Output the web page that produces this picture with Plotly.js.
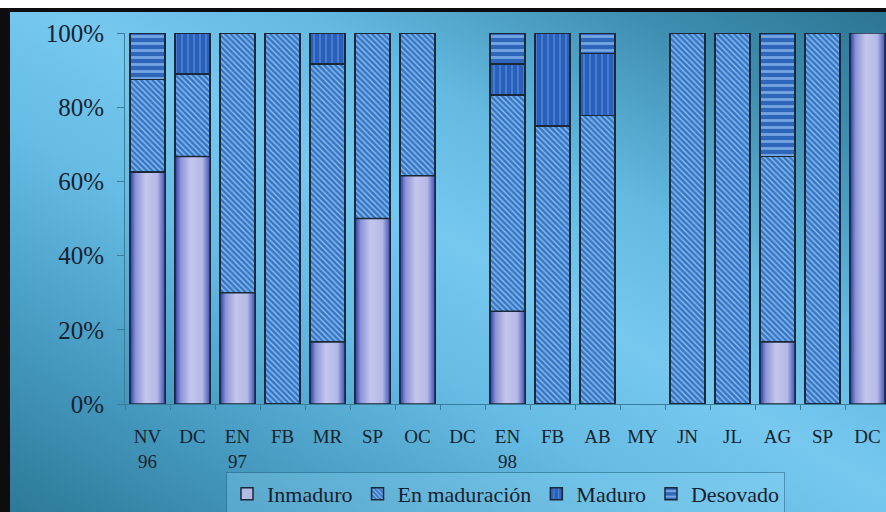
<!DOCTYPE html>
<html>
<head>
<meta charset="utf-8">
<script src="https://cdn.plot.ly/plotly-3.0.1.min.js"></script>
<style>
  html, body { margin: 0; padding: 0; background: #ffffff; }
  #wrap { position: relative; width: 886px; height: 512px; overflow: hidden; }
  #bg {
    position: absolute; left: 0; top: 0; width: 886px; height: 512px;
    background: linear-gradient(to top right, #2c7896 0%, #4599bf 18%, #66bce4 38%, #76c8ef 52%, #64bae2 66%, #3f8fb2 84%, #2a7390 100%);
  }
  #chart { position: absolute; left: 0; top: 0; width: 886px; height: 512px; }
  .frame-top-white { position: absolute; left: 0; top: 0; width: 886px; height: 8px; background: #ffffff; }
  .frame-top { position: absolute; left: 0; top: 8px; width: 886px; height: 4px; background: #0d0d0d; }
  .frame-left { position: absolute; left: 0; top: 8px; width: 10px; height: 504px; background: #0d0d0d; }
</style>
</head>
<body>
<div id="wrap">
  <div id="bg"></div>
  <div id="chart"></div>
  <div class="frame-top-white"></div>
  <div class="frame-top"></div>
  <div class="frame-left"></div>
</div>
<script>
// Monthly gonad maturity stages (percent of sampled individuals)
const months = ['NV', 'DC', 'EN', 'FB', 'MR', 'SP', 'OC', 'DC', 'EN', 'FB', 'AB', 'MY', 'JN', 'JL', 'AG', 'SP', 'DC'];
const years  = ['96', '', '97', '', '', '', '', '', '98', '', '', '', '', '', '', '', ''];

const inmaduro     = [62.5, 66.7, 30, 0, 16.7, 50, 61.5, 0, 25, 0, 0, 0, 0, 0, 16.7, 0, 100];
const enMaduracion = [25, 22.2, 70, 100, 75, 50, 38.5, 0, 58.3, 75, 77.8, 0, 100, 100, 50, 100, 0];
const maduro       = [0, 11.1, 0, 0, 8.3, 0, 0, 0, 8.3, 25, 16.7, 0, 0, 0, 0, 0, 0];
const desovado     = [12.5, 0, 0, 0, 0, 0, 0, 0, 8.4, 0, 5.5, 0, 0, 0, 33.3, 0, 0];

const yTicks = [0, 20, 40, 60, 80, 100];

const xPos = months.map((_, i) => i);
const tickText = months.map((m, i) => years[i] ? m + '<br>' + years[i] : m);
const boundaries = months.map((_, i) => i - 0.5).concat([months.length - 0.5]);

const BAR_W = 0.78;
const outline = { color: '#1b2838', width: 1.5 };
const SERIF = '"Liberation Serif", "Times New Roman", serif';

// empty stages are left out so no flat segment is drawn
const nz = arr => arr.map(v => (v > 0 ? v : null));

function barTrace(name, values, color, pattern) {
  return {
    type: 'bar', name: name, x: xPos, y: nz(values), width: BAR_W,
    marker: { color: color, line: outline, pattern: pattern },
    hoverinfo: 'skip'
  };
}

const traces = [
  barTrace('Inmaduro', inmaduro, '#b4b9e6', { shape: '' }),
  barTrace('En maduración', enMaduracion, '#3776c6',
    { shape: '\\', fgcolor: '#8cc2f0', bgcolor: '#3776c6', size: 4, solidity: 0.35 }),
  barTrace('Maduro', maduro, '#2960bc',
    { shape: '|', fgcolor: '#4f86d0', bgcolor: '#2960bc', size: 6, solidity: 0.25 }),
  barTrace('Desovado', desovado, '#2e66bc',
    { shape: '-', fgcolor: '#74a4e2', bgcolor: '#2e66bc', size: 7, solidity: 0.4 })
];

// shaded fill for the immature segments, laid over the bottom bar of each stack
const hw = BAR_W / 2;
inmaduro.forEach((v, i) => {
  if (v <= 0) return;
  traces.push({
    type: 'scatter', mode: 'lines', showlegend: false, hoverinfo: 'skip',
    x: [i - hw, i + hw, i + hw, i - hw, i - hw],
    y: [0, 0, v, v, 0],
    fill: 'toself',
    fillgradient: {
      type: 'horizontal',
      colorscale: [[0, '#283aa2'], [0.16, '#8a93d6'], [0.45, '#c4c7ec'], [0.78, '#b3b8e6'], [1, '#4151b4']]
    },
    line: outline
  });
});

const axisColor = '#3a7d99';
const textColor = '#17222e';

const layout = {
  width: 886, height: 512,
  margin: { l: 125, r: 0, t: 33, b: 108, autoexpand: false },
  paper_bgcolor: 'rgba(0,0,0,0)',
  plot_bgcolor: 'rgba(0,0,0,0)',
  barmode: 'stack',
  font: { family: SERIF, color: textColor },
  xaxis: {
    range: [-0.5, 16.41], automargin: false,
    tickmode: 'array', tickvals: xPos, ticktext: tickText,
    ticks: '', ticklabelstandoff: 15,
    tickfont: { family: SERIF, size: 19, color: textColor },
    showline: true, linecolor: axisColor, linewidth: 1,
    showgrid: false, zeroline: false,
    minor: { tickmode: 'array', tickvals: boundaries, ticks: 'outside', ticklen: 5, tickcolor: axisColor, showgrid: false }
  },
  yaxis: {
    range: [0, 100], automargin: false,
    tickmode: 'array', tickvals: yTicks, ticktext: yTicks.map(v => v + '%'),
    ticks: 'outside', ticklen: 7, tickcolor: axisColor, ticklabelstandoff: 8,
    tickfont: { family: SERIF, size: 25, color: textColor },
    showline: true, linecolor: axisColor, linewidth: 1,
    showgrid: false, zeroline: false
  },
  showlegend: true,
  legend: {
    orientation: 'h', x: 0.5, xanchor: 'center',
    yref: 'container', y: 0.078, yanchor: 'top',
    font: { family: SERIF, size: 22, color: textColor },
    bgcolor: 'rgba(140,212,244,0.35)', bordercolor: 'rgba(40,100,130,0.55)', borderwidth: 1,
    itemwidth: 30, traceorder: 'normal'
  }
};

Plotly.newPlot('chart', traces, layout, { displayModeBar: false, staticPlot: true });
</script>
</body>
</html>
